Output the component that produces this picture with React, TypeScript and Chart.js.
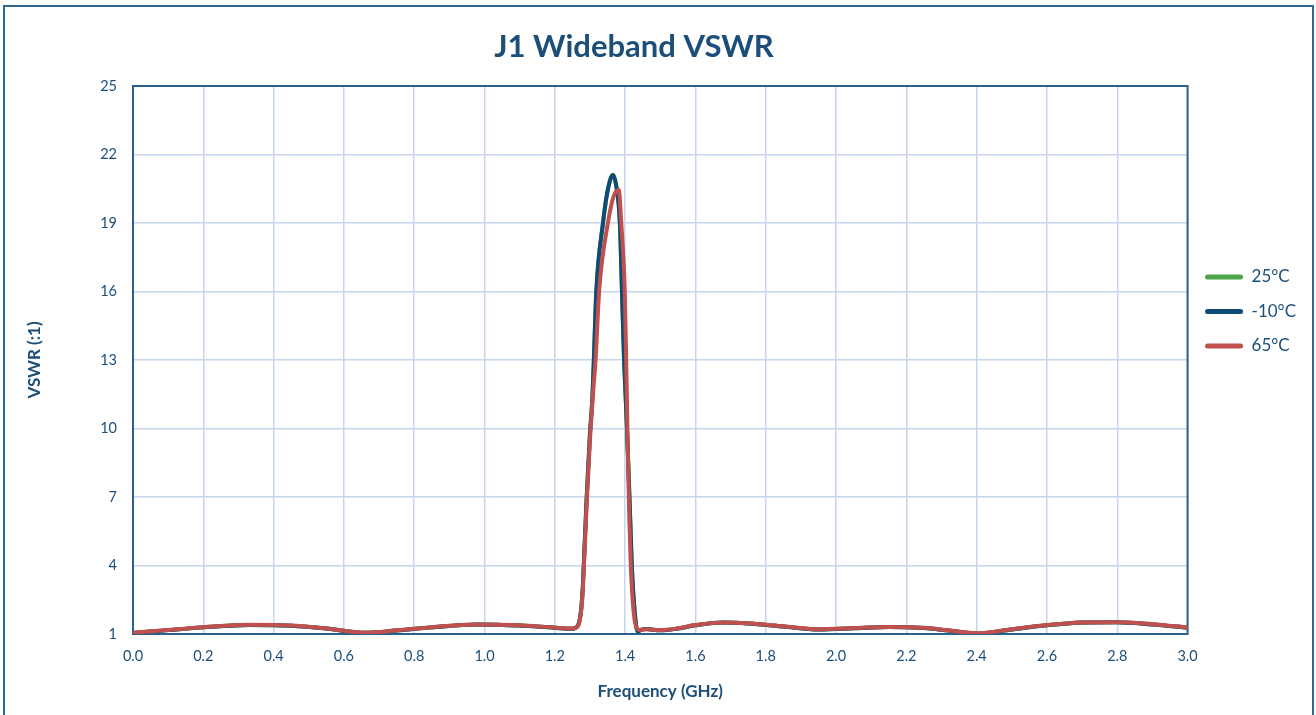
import { useEffect, useRef } from 'react';
import { Chart, registerables } from 'chart.js';

Chart.register(...registerables);

// ---- Data ----
const chartTitle = 'J1 Wideband VSWR';
const xAxisTitle = 'Frequency (GHz)';
const yAxisTitle = 'VSWR (:1)';
const seriesLabels = ['25°C', '-10°C', '65°C'];

const xMin = 0;
const xMax = 3;
const xStep = 0.2;
const yMin = 1;
const yMax = 25;
const yStep = 3;

// 25°C (hidden beneath the other two traces in the reference)
const freq25 = [
  0.0, 0.1, 0.2, 0.33, 0.45, 0.55, 0.66, 0.75, 0.85, 0.98, 1.1, 1.2, 1.25, 1.265, 1.275, 1.28, 1.29, 1.3,
  1.307, 1.311, 1.318, 1.337, 1.35, 1.3656, 1.375, 1.385, 1.391, 1.397, 1.404, 1.41, 1.415, 1.419, 1.427,
  1.436, 1.445, 1.46, 1.5, 1.55, 1.6, 1.68, 1.75, 1.85, 1.95, 2.05, 2.15, 2.25, 2.32, 2.4, 2.5, 2.6, 2.7,
  2.8, 2.9, 3.0,
];
const vswr25 = [
  1.04, 1.17, 1.29, 1.39, 1.36, 1.24, 1.05, 1.15, 1.29, 1.42, 1.37, 1.27, 1.23, 1.35, 2.1, 3.2, 6.8, 9.8,
  11.4, 13.0, 16.0, 19.0, 20.4, 21.1, 20.6, 19.0, 16.0, 13.0, 10.5, 8.0, 5.8, 4.0, 2.0,
  1.1, 1.18, 1.22, 1.16, 1.24, 1.38, 1.5, 1.46, 1.33, 1.2, 1.25, 1.31, 1.26, 1.15, 1.02, 1.2, 1.38, 1.5,
  1.52, 1.42, 1.28,
];

// -10°C
const freqM10 = [
  0.0, 0.1, 0.2, 0.33, 0.45, 0.55, 0.66, 0.75, 0.85, 0.98, 1.1, 1.2, 1.25, 1.265, 1.275, 1.28, 1.29, 1.3,
  1.307, 1.311, 1.318, 1.337, 1.35, 1.3656, 1.375, 1.385, 1.391, 1.397, 1.404, 1.41, 1.415, 1.419, 1.427,
  1.436, 1.445, 1.46, 1.5, 1.55, 1.6, 1.68, 1.75, 1.85, 1.95, 2.05, 2.15, 2.25, 2.32, 2.4, 2.5, 2.6, 2.7,
  2.8, 2.9, 3.0,
];
const vswrM10 = [
  1.04, 1.17, 1.29, 1.39, 1.36, 1.24, 1.05, 1.15, 1.29, 1.42, 1.37, 1.27, 1.23, 1.35, 2.1, 3.2, 6.8, 9.8,
  11.4, 13.0, 16.0, 19.0, 20.4, 21.1, 20.6, 19.0, 16.0, 13.0, 10.5, 8.0, 5.8, 4.0, 2.0,
  1.1, 1.18, 1.22, 1.16, 1.24, 1.38, 1.5, 1.46, 1.33, 1.2, 1.25, 1.31, 1.26, 1.15, 1.02, 1.2, 1.38, 1.5,
  1.52, 1.42, 1.28,
];

// 65°C
const freq65 = [
  0.0, 0.1, 0.2, 0.33, 0.45, 0.55, 0.66, 0.75, 0.85, 0.98, 1.1, 1.2, 1.25, 1.265, 1.275, 1.28, 1.29, 1.3,
  1.31, 1.316, 1.326, 1.351, 1.368, 1.382, 1.389, 1.395, 1.399, 1.403, 1.406, 1.409, 1.412, 1.416, 1.424,
  1.433, 1.442, 1.46, 1.5, 1.55, 1.6, 1.68, 1.75, 1.85, 1.95, 2.05, 2.15, 2.25, 2.32, 2.4, 2.5, 2.6, 2.7,
  2.8, 2.9, 3.0,
];
const vswr65 = [
  1.05, 1.18, 1.3, 1.4, 1.37, 1.24, 1.06, 1.16, 1.3, 1.42, 1.38, 1.28, 1.24, 1.33, 2.0, 3.0, 6.5, 9.5,
  11.8, 13.0, 16.0, 19.0, 20.2, 20.45, 19.0, 17.5, 16.0, 13.0, 10.5, 8.0, 6.0, 4.0, 2.0,
  1.25, 1.18, 1.21, 1.17, 1.25, 1.39, 1.5, 1.47, 1.34, 1.21, 1.26, 1.31, 1.27, 1.16, 1.03, 1.21, 1.39, 1.5,
  1.52, 1.43, 1.29,
];

const seriesColors = ['#4ca64a', '#0f4b74', '#c0504d'];

const TEXT_BLUE = '#1c4e7a';
const FONT = "Lato, 'Noto Sans', sans-serif";

const toPoints = (xs: number[], ys: number[]) => xs.map((x, i) => ({ x, y: ys[i] }));

const framePlugin = {
  id: 'frameAndPlacement',
  afterLayout(chart: any) {
    const t = chart.titleBlock;
    if (t) {
      t.left = 0;
      t.right = 1268;
    }
    const l = chart.legend;
    if (l) {
      l.top = 251;
      l.bottom = 251 + 160;
    }
  },
  beforeDatasetsDraw(chart: any) {
    const { ctx, chartArea: a } = chart;
    ctx.save();
    ctx.strokeStyle = '#2b5f8c';
    ctx.lineWidth = 2;
    ctx.strokeRect(a.left, a.top, a.right - a.left, a.bottom - a.top);
    ctx.restore();
  },
};

export default function App() {
  const canvasRef = useRef<HTMLCanvasElement | null>(null);

  useEffect(() => {
    if (!canvasRef.current) return;
    const lineDs = (label: string, color: string, xs: number[], ys: number[], order: number) => ({
      label,
      data: toPoints(xs, ys),
      borderColor: color,
      backgroundColor: color,
      borderWidth: 4,
      pointRadius: 0,
      pointHoverRadius: 0,
      cubicInterpolationMode: 'monotone' as const,
      borderCapStyle: 'round' as const,
      borderJoinStyle: 'round' as const,
      fill: false,
      order,
    });

    const chart = new Chart(canvasRef.current, {
      type: 'line',
      data: {
        datasets: [
          lineDs(seriesLabels[0], seriesColors[0], freq25, vswr25, 3),
          lineDs(seriesLabels[1], seriesColors[1], freqM10, vswrM10, 2),
          lineDs(seriesLabels[2], seriesColors[2], freq65, vswr65, 1),
        ],
      },
      options: {
        animation: false,
        responsive: false,
        devicePixelRatio: 1,
        layout: { padding: { left: 0, right: 10, top: 0, bottom: 0 } },
        plugins: {
          title: {
            display: true,
            text: chartTitle,
            color: TEXT_BLUE,
            font: { family: FONT, size: 31, weight: 'bold' },
            padding: { top: 28.4, bottom: 20.4 },
          },
          legend: {
            display: true,
            position: 'right',
            align: 'start',
            labels: {
              color: TEXT_BLUE,
              font: { family: FONT, size: 17 },
              boxWidth: 38,
              boxHeight: 5,
              padding: 17.5,
              generateLabels: (c: any) => {
                const items = Chart.defaults.plugins.legend.labels.generateLabels(c);
                return items
                  .sort((a: any, b: any) => a.datasetIndex - b.datasetIndex)
                  .map((it: any) => ({ ...it, lineWidth: 0, borderRadius: 2.5 }));
              },
            },
          },
          tooltip: { enabled: false },
        },
        scales: {
          x: {
            type: 'linear',
            min: xMin,
            max: xMax,
            afterFit: (s: any) => {
              s.height = 81;
            },
            ticks: {
              stepSize: xStep,
              color: TEXT_BLUE,
              font: { family: FONT, size: 14.5 },
              padding: 14,
              maxRotation: 0,
              autoSkip: false,
              callback: (v: any) => Number(v).toFixed(1),
            },
            grid: { color: '#c6d7eb', lineWidth: 1.5, drawTicks: false },
            border: { display: false },
            title: {
              display: true,
              text: xAxisTitle,
              color: TEXT_BLUE,
              font: { family: FONT, size: 17, weight: 'bold' },
              padding: { top: 0, bottom: 12.8 },
            },
          },
          y: {
            type: 'linear',
            min: yMin,
            max: yMax,
            afterFit: (s: any) => {
              s.width = 133;
            },
            ticks: {
              stepSize: yStep,
              color: TEXT_BLUE,
              font: { family: FONT, size: 14.5 },
              padding: 16,
            },
            grid: { color: '#c6d7eb', lineWidth: 1.5, drawTicks: false },
            border: { display: false },
            title: {
              display: true,
              text: yAxisTitle,
              color: TEXT_BLUE,
              font: { family: FONT, size: 17, weight: 'bold' },
              padding: { top: 24.8, bottom: 0 },
            },
          },
        },
      },
      plugins: [framePlugin],
    });
    return () => chart.destroy();
  }, []);

  return (
    <div style={{ position: 'fixed', left: 0, top: 0, width: 1316, height: 715, background: '#fff', overflow: 'hidden' }}>
      <div
        style={{
          position: 'absolute',
          left: 3,
          top: 5,
          width: 1311,
          height: 730,
          border: '2px solid #2f6793',
          boxSizing: 'border-box',
        }}
      />
      <canvas
        ref={canvasRef}
        width={1316}
        height={715}
        style={{ position: 'absolute', left: 0, top: 0, width: 1316, height: 715, display: 'block' }}
      />
    </div>
  );
}
